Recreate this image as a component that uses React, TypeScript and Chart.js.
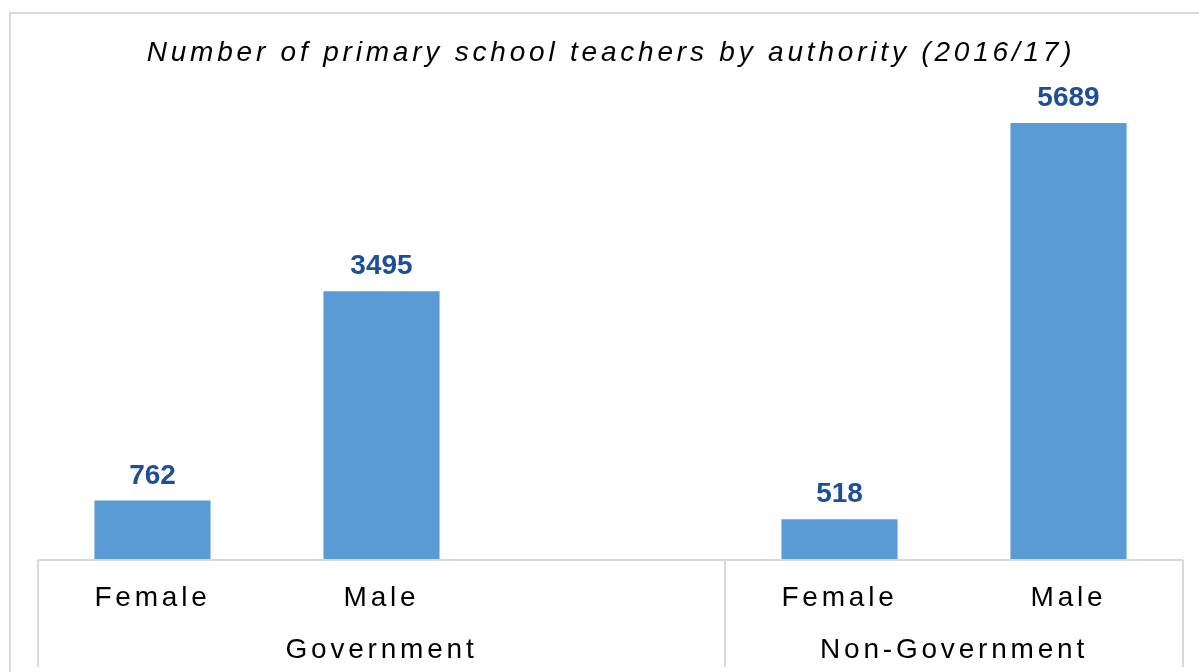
import React, { useEffect, useRef } from "react";
import { Chart, registerables } from "chart.js";

Chart.register(...registerables);

const categories = ["Female", "Male", "", "Female", "Male"];
const groups = ["Government", "Non-Government"];
const groupSpans = [[0, 2], [3, 4]];
const teachers = [762, 3495, null, 518, 5689];
const titleText = "Number of primary school teachers by authority (2016/17)";

const FONT = "'Liberation Sans', Arial, sans-serif";
const SPACING = 3.8;

function drawSpaced(ctx: CanvasRenderingContext2D, text: string, x: number, y: number, spacing: number) {
  (ctx as any).letterSpacing = spacing + "px";
  ctx.textAlign = "center";
  ctx.fillText(text, x, y);
  (ctx as any).letterSpacing = "0px";
}

const decorPlugin = {
  id: "decor",
  beforeDraw(chart: any) {
    const ctx = chart.ctx as CanvasRenderingContext2D;
    ctx.save();
    ctx.fillStyle = "#ffffff";
    ctx.fillRect(0, 0, chart.width, chart.height);
    ctx.strokeStyle = "#D9D9D9";
    ctx.lineWidth = 2;
    ctx.beginPath();
    ctx.moveTo(10, chart.height + 5);
    ctx.lineTo(10, 13);
    ctx.lineTo(chart.width + 5, 13);
    ctx.stroke();
    ctx.restore();
  },
  afterDraw(chart: any) {
    const ctx = chart.ctx as CanvasRenderingContext2D;
    const area = chart.chartArea;
    const xs = chart.scales.x;
    ctx.save();
    // axis lines
    ctx.strokeStyle = "#D9D9D9";
    ctx.lineWidth = 2;
    const b1 = area.left;
    const b2 = (xs.getPixelForValue(2) + xs.getPixelForValue(3)) / 2;
    const b3 = area.right;
    ctx.beginPath();
    ctx.moveTo(area.left, area.bottom + 1);
    ctx.lineTo(area.right, area.bottom + 1);
    [b1, b2, b3].forEach((bx) => {
      ctx.moveTo(bx, area.bottom + 1);
      ctx.lineTo(bx, 667);
    });
    ctx.stroke();

    // title
    ctx.fillStyle = "#000000";
    ctx.textBaseline = "alphabetic";
    ctx.font = `italic 28px ${FONT}`;
    drawSpaced(ctx, titleText, 611, 61, SPACING);

    // category labels
    ctx.font = `28px ${FONT}`;
    categories.forEach((c, i) => {
      if (!c) return;
      drawSpaced(ctx, c, xs.getPixelForValue(i), 606, SPACING);
    });
    // group labels
    groups.forEach((g, gi) => {
      const [s, e] = groupSpans[gi];
      const left = s === 0 ? area.left : b2;
      const right = e === categories.length - 1 ? area.right : b2;
      drawSpaced(ctx, g, (left + right) / 2, 658, SPACING);
    });

    // data labels
    ctx.font = `bold 28px ${FONT}`;
    ctx.fillStyle = "#1F4E99";
    const meta = chart.getDatasetMeta(0);
    meta.data.forEach((el: any, i: number) => {
      const v = teachers[i];
      if (v == null) return;
      ctx.textAlign = "center";
      ctx.fillText(String(v), el.x, el.y - 17);
    });
    ctx.restore();
  },
};

export default function App() {
  const ref = useRef<HTMLCanvasElement>(null);
  useEffect(() => {
    if (!ref.current) return;
    const chart = new Chart(ref.current, {
      type: "bar",
      data: {
        labels: categories,
        datasets: [
          {
            data: teachers as any,
            backgroundColor: "#5B9BD5",
            borderWidth: 0,
            barPercentage: 0.507,
            categoryPercentage: 1,
          },
        ],
      },
      options: {
        animation: false,
        responsive: false,
        maintainAspectRatio: false,
        layout: { padding: { left: 38, right: 16, top: 80, bottom: 113 } },
        plugins: { legend: { display: false }, title: { display: false }, tooltip: { enabled: false } },
        scales: {
          x: { display: false, offset: true },
          y: { display: false, min: 0, max: 6250 },
        },
      },
      plugins: [decorPlugin],
    });
    return () => chart.destroy();
  }, []);
  return (
    <div style={{ position: "fixed", left: 0, top: 0, width: 1199, height: 672, background: "#fff" }}>
      <canvas ref={ref} width={1199} height={672} style={{ width: 1199, height: 672, display: "block" }} />
    </div>
  );
}
